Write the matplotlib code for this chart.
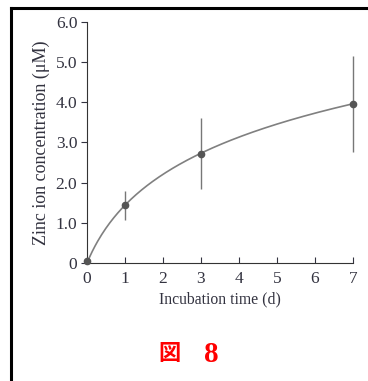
import matplotlib
matplotlib.use("Agg")
import matplotlib.pyplot as plt
from matplotlib.lines import Line2D
import numpy as np

# measured points
days = [0, 1, 3, 7]
zinc = [0.05, 1.45, 2.72, 3.97]
err_low = [0.0, 0.37, 0.89, 1.20]
err_high = [0.0, 0.35, 0.90, 1.18]

x_ticks = [0, 1, 2, 3, 4, 5, 6, 7]
y_ticks = [0, 1, 2, 3, 4, 5, 6]
y_ticklabels = ['0', '1.0', '2.0', '3.0', '4.0', '5.0', '6.0']


def fit_log_curve(x, y):
    # y = a * ln(1 + b x), best b on a grid, a by least squares
    x = np.asarray(x, float)
    y = np.asarray(y, float)
    best = None
    for b in np.linspace(0.1, 5, 491):
        g = np.log1p(b * x)
        a = (g @ y) / (g @ g)
        res = ((a * g - y) ** 2).sum()
        if best is None or res < best[0]:
            best = (res, a, b)
    return best[1], best[2]


plt.rcParams['font.family'] = ['Liberation Serif', 'Noto Sans CJK JP']
txt = '#333340'

fig = plt.figure(figsize=(3.68, 3.81), dpi=100)
ax = fig.add_axes([0.2364, 0.3097, 0.7228, 0.6326])

a, b = fit_log_curve(days, zinc)
xs = np.linspace(0, 7, 200)
ax.plot(xs, a * np.log1p(b * xs), color='#808080', linewidth=1.2, zorder=2)
ax.errorbar(days, zinc, yerr=[err_low, err_high], fmt='o', color='#555555',
            ecolor='#777777', elinewidth=1.0, markersize=4.5, capsize=0, zorder=3)

ax.set_xlim(0, 7)
ax.set_ylim(0, 6)
ax.set_xticks(x_ticks)
ax.set_yticks(y_ticks)
ax.set_yticklabels(y_ticklabels)
ax.spines['top'].set_visible(False)
ax.spines['right'].set_visible(False)
ax.spines['left'].set_color('#333333')
ax.spines['bottom'].set_color('#333333')
ax.tick_params(axis='x', direction='in', length=4, labelsize=12.5, colors=txt, pad=6)
ax.tick_params(axis='y', direction='out', length=4, labelsize=12.5, colors=txt, pad=3)
ax.set_xlabel('Incubation time (d)', fontsize=11.3, color=txt, labelpad=3)
ax.set_ylabel('Zinc ion concentration (\u03bcM)', fontsize=13, color=txt, labelpad=4)
for art in ax.lines + ax.collections:
    art.set_clip_on(False)

fig.text(170 / 368, 1 - 355 / 381, '\u56f3', color='#ff0000', fontsize=16,
         fontweight='bold', ha='center', va='center')
fig.text(211.5 / 368, 1 - 355 / 381, '8', color='#ff0000', fontsize=21,
         fontweight='bold', ha='center', va='center')

# frame lines (left and top)
fig.add_artist(Line2D([0.029, 0.029], [0, 0.978], transform=fig.transFigure,
                      color='black', linewidth=2.2))
fig.add_artist(Line2D([0.029, 1.0], [0.978, 0.978], transform=fig.transFigure,
                      color='black', linewidth=2.2))

fig.savefig('out.png', dpi=100)
